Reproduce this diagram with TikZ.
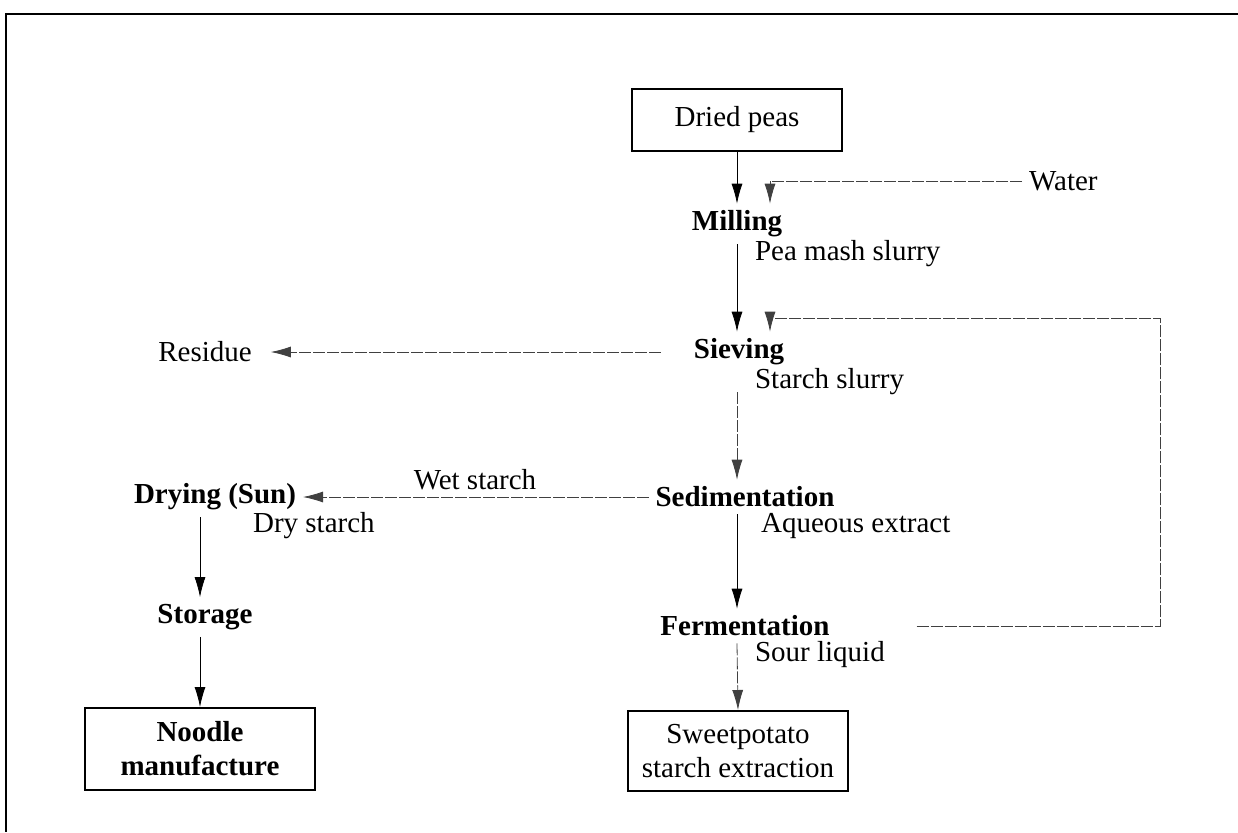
\documentclass[tikz,border=0pt]{standalone}
\usepackage{fontspec}
\setmainfont{Liberation Serif}
\usetikzlibrary{scopes,arrows.meta}

\begin{document}
\begin{tikzpicture}[
    x=0.5pt,y=-0.5pt,
    every node/.style={font=\fontsize{14.5}{17}\selectfont},
    proc/.style={font=\fontsize{14.5}{17}\selectfont\bfseries},
    lbl/.style={anchor=west},
    pbox/.style={draw=black,line width=1pt,align=center,minimum width=105pt,inner sep=4pt},
    flow/.style={>={Latex[length=10pt,width=5.5pt]},draw=black,thin},
    feed/.style={>={Latex[length=10pt,width=5.5pt]},draw=black!75,thin,dash pattern=on 6pt off 1pt},
]
    \useasboundingbox (0,0) rectangle (1238,832);
    \draw[line width=1pt] (1238,14) -- (6,14) -- (6,832);

    % main column
    \node[pbox,minimum height=31pt] (dried) at (737,120) {Dried peas};
    \node[proc] (mill) at (737,224) {Milling};
    \node[lbl] (peamash) at (748,254) {Pea mash slurry};
    \node[lbl] (water) at (1022,181) {Water};
    \node[proc] (sieve) at (739,352) {Sieving};
    \node[lbl] (starchsl) at (748,382) {Starch slurry};
    \node[proc] (sed) at (745,497) {Sedimentation};
    \node[lbl] (aqueous) at (754,526) {Aqueous extract};
    \node[proc] (ferm) at (745,626) {Fermentation};
    \node[lbl] (sour) at (748,655) {Sour liquid};
    \node[pbox,minimum width=110pt,minimum height=40pt] (sweet) at (738,751) {Sweetpotato\\starch extraction};

    % left column
    \node (residue) at (205,352) {Residue};
    \node (wet) at (475,480) {Wet starch};
    \node[proc] (dry) at (215,497) {Drying (Sun)};
    \node[lbl] (drystarch) at (246,526) {Dry starch};
    \node[proc] (store) at (205,617) {Storage};
    \node[pbox,proc,minimum width=115pt,minimum height=41pt] (noodle) at (200,749) {Noodle\\manufacture};

    \coordinate (wtr) at (770,181);
    \coordinate (fbr) at (1160,318);

    {[flow,->]
        \draw (dried.south -| dried) -- (mill.north -| dried);
        \draw (mill.south -| dried) -- (sieve.north -| dried);
        \draw (sed.south -| dried) -- (ferm.north -| dried);
        \draw (dry.south -| noodle) -- (store.north -| noodle);
        \draw (store.south -| noodle) -- (noodle.north);
    }
    {[feed,->]
        \draw (water.west) -- (wtr) -- (wtr |- mill.north);
        \draw (sieve.south -| dried) ++(0,20) -- (sed.north -| dried);
        \draw (ferm.south -| dried) -- (sweet.north);
        \draw[shorten <=13pt,shorten >=6pt] (sieve.west) -- (residue.east);
        \draw (sed.west) -- (dry.east);
        \draw (ferm.east) ++(80,0) -- (ferm.east -| fbr) -- (fbr) -- (fbr -| wtr) -- (sieve.north -| wtr);
    }
\end{tikzpicture}
\end{document}
